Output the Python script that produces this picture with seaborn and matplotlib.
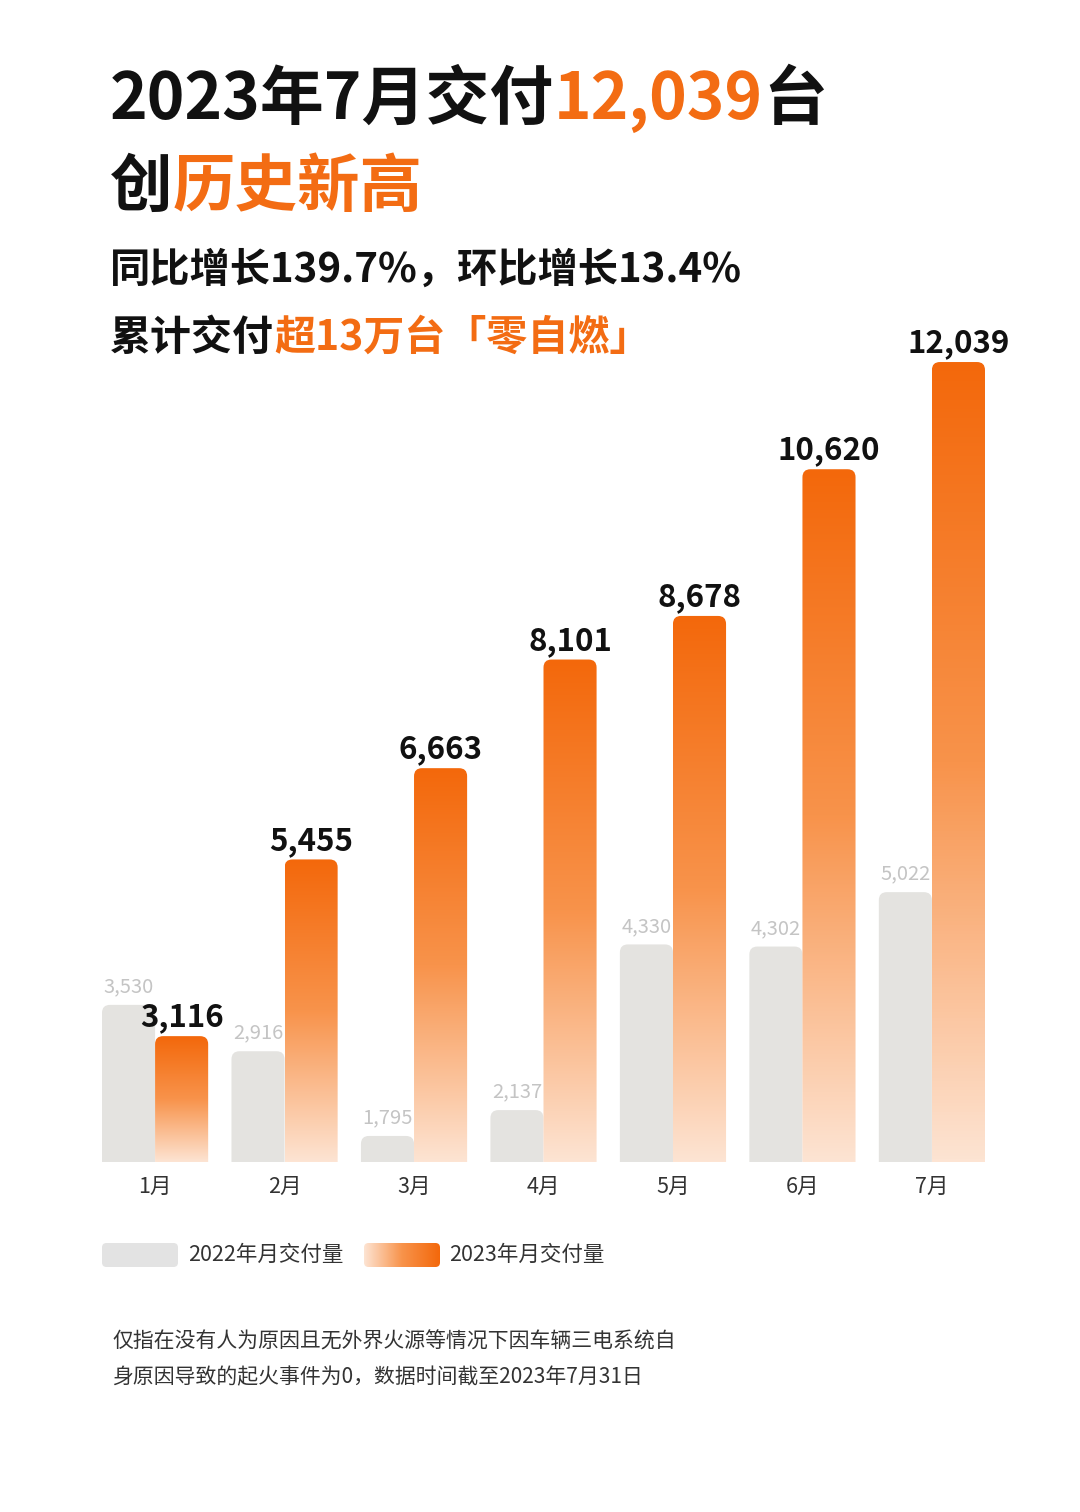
import numpy as np
import pandas as pd
import matplotlib.pyplot as plt
import seaborn as sns
from matplotlib.patches import FancyBboxPatch
from matplotlib.colors import LinearSegmentedColormap

months = ["1月", "2月", "3月", "4月", "5月", "6月", "7月"]
d2022 = [3530, 2916, 1795, 2137, 4330, 4302, 5022]
d2023 = [3116, 5455, 6663, 8101, 8678, 10620, 12039]
legend_labels = ["2022年月交付量", "2023年月交付量"]

GRAY = "#E4E3E0"
ORANGE = "#F36C13"
BLACK = "#111111"
TXT = "#333333"
grad_cmap = LinearSegmentedColormap.from_list(
    "og", [(0, "#FDE4D3"), (0.5, "#F8934B"), (1, "#F3680B")])

sns.set_theme(style="white")
plt.rcParams["font.family"] = ["Noto Sans CJK SC", "DejaVu Sans"]

W, H = 1080, 1512
fig = plt.figure(figsize=(W / 100, H / 100), dpi=100)
fig.patch.set_facecolor("white")

# main bar chart (bars not drawn to zero baseline in the original poster)
YMIN, YMAX = 1450, 12860
ax = fig.add_axes([102 / W, 1 - 1162 / H, 883 / W, 862 / H])
df = pd.DataFrame({
    "月份": months * 2,
    "交付量": d2022 + d2023,
    "年份": ["2022"] * len(months) + ["2023"] * len(months),
})
sns.barplot(data=df, x="月份", y="交付量", hue="年份", palette=[GRAY, ORANGE],
            width=0.82, gap=0, errorbar=None, legend=False, ax=ax)

px_per_unit = 862 / (YMAX - YMIN)
rx = 8 / 129.5
asp = (8 / px_per_unit) / rx

for k, cont in enumerate(ax.containers):
    for bar in cont:
        x0, w, h = bar.get_x(), bar.get_width(), bar.get_height()
        bar.set_visible(False)
        p = FancyBboxPatch((x0, 0), w, h, boxstyle=f"round,pad=0,rounding_size={rx}",
                           mutation_aspect=asp, ec="none",
                           fc=GRAY if k == 0 else "none", zorder=2)
        ax.add_patch(p)
        if k == 1:
            im = ax.imshow(np.linspace(0, 1, 256).reshape(-1, 1), cmap=grad_cmap,
                           extent=(x0, x0 + w, YMIN, h), origin="lower",
                           aspect="auto", zorder=2)
            im.set_clip_path(p)

for bar, v in zip(ax.containers[0], d2022):
    ax.annotate(f"{v:,}", (bar.get_x() + bar.get_width() / 2, v), xytext=(0, 9),
                textcoords="offset points", ha="center", va="baseline",
                fontsize=14.5, color="#C4C4C4", zorder=3)
for bar, v in zip(ax.containers[1], d2023):
    ax.annotate(f"{v:,}", (bar.get_x() + bar.get_width() / 2, v), xytext=(0, 7),
                textcoords="offset points", ha="center", va="baseline",
                fontsize=22.5, fontweight="bold", color=BLACK, zorder=3)

ax.set_xlim(-0.41, 6.41)
ax.set_ylim(YMIN, YMAX)
ax.set_xlabel("")
ax.set_ylabel("")
ax.set_yticks([])
ax.tick_params(axis="x", length=0, pad=10, labelsize=15.5, labelcolor=TXT)
for s in ax.spines.values():
    s.set_visible(False)
ax.patch.set_alpha(0)

# legend swatches
def swatch(x0, y0, w, h, gradient):
    sax = fig.add_axes([x0 / W, 1 - (y0 + h) / H, w / W, h / H])
    sax.set_xlim(0, 1)
    sax.set_ylim(0, 1)
    sax.axis("off")
    clip = FancyBboxPatch((0, 0), 1, 1, boxstyle="round,pad=0,rounding_size=0.06",
                          mutation_aspect=w / h, ec="none",
                          fc="none" if gradient else "#E3E3E3")
    sax.add_patch(clip)
    if gradient:
        im = sax.imshow(np.linspace(0, 1, 256).reshape(1, -1), cmap=grad_cmap,
                        extent=(0, 1, 0, 1), aspect="auto")
        im.set_clip_path(clip)

swatch(102, 1243, 76, 24, False)
swatch(364, 1243, 76, 24, True)
fig.text(188 / W, 1 - 1255 / H, legend_labels[0], fontsize=15.5, color=TXT, va="center")
fig.text(449 / W, 1 - 1255 / H, legend_labels[1], fontsize=15.5, color=TXT, va="center")

# headline with mixed colours
renderer = fig.canvas.get_renderer()

def rich_line(x, y, parts, size):
    for s, c in parts:
        t = fig.text(x / W, 1 - y / H, s, fontsize=size, fontweight="bold",
                     color=c, ha="left", va="center")
        x += t.get_window_extent(renderer).width

rich_line(110, 100, [("2023年7月交付", BLACK), ("12,039", ORANGE), ("台", BLACK)], 46)
rich_line(110, 187, [("创", BLACK), ("历史新高", ORANGE)], 45)
rich_line(110, 270, [("同比增长139.7%，环比增长13.4%", BLACK)], 29)
rich_line(110, 338, [("累计交付", BLACK), ("超13万台「零自燃」", ORANGE)], 29.5)

fig.text(112 / W, 1 - 1342 / H, "仅指在没有人为原因且无外界火源等情况下因车辆三电系统自",
         fontsize=15, color=TXT, va="center")
fig.text(112 / W, 1 - 1377 / H, "身原因导致的起火事件为0，数据时间截至2023年7月31日",
         fontsize=15, color=TXT, va="center")

fig.savefig("out.png", dpi=100, facecolor="white")
